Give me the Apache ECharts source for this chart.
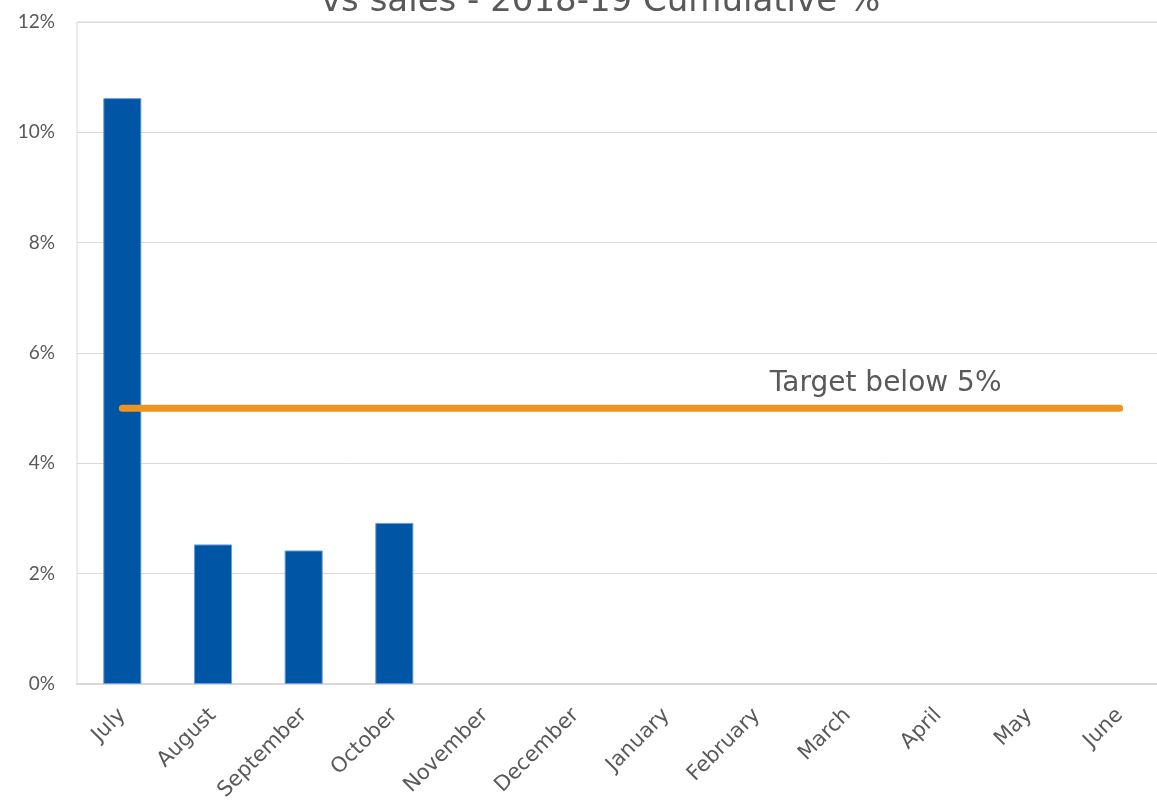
<!DOCTYPE html>
<html>
<head>
<meta charset="utf-8">
<script src="https://cdn.jsdelivr.net/npm/echarts@6/dist/echarts.min.js"></script>
<style>html,body{margin:0;padding:0;background:#fff;}#c{width:1157px;height:811px;}</style>
</head>
<body>
<div id="c"></div>
<script>
var categories = ['July','August','September','October','November','December','January','February','March','April','May','June'];
var values = [10.62, 2.53, 2.42, 2.92, null, null, null, null, null, null, null, null];
var target = [5,5,5,5,5,5,5,5,5,5,5,5];
var targetLabel = 'Target below 5%';
var titleText = 'vs sales - 2018-19 Cumulative %';
var yTicks = [0, 2, 4, 6, 8, 10, 12];

var FONT = '"DejaVu Sans", sans-serif';
var chart = echarts.init(document.getElementById('c'));
var targetData = target.map(function (v, i) {
  if (i === 8) {
    return { value: v, label: { show: true, position: 'top', offset: [38, -5], formatter: targetLabel,
      fontSize: 28, color: '#595959', fontFamily: FONT } };
  }
  return v;
});
chart.setOption({
  animation: false,
  title: {
    text: titleText, left: 316, top: -20,
    textStyle: { fontSize: 34, fontWeight: 'normal', color: '#595959', fontFamily: FONT }
  },
  grid: { left: 77, width: 1088, top: 22, height: 662, show: true, borderColor: '#d9d9d9', borderWidth: 1,
    outerBoundsMode: 'none', containLabel: false },
  xAxis: {
    type: 'category', data: categories,
    axisLine: { show: true, lineStyle: { color: '#d9d9d9', width: 2 } },
    axisTick: { show: false },
    axisLabel: { rotate: 45, interval: 0, fontSize: 21, color: '#595959', fontFamily: FONT, margin: 28 }
  },
  yAxis: {
    type: 'value', min: yTicks[0], max: yTicks[yTicks.length - 1], interval: 2,
    axisLine: { show: false }, axisTick: { show: false },
    splitLine: { lineStyle: { color: '#d9d9d9', width: 1 } },
    axisLabel: { formatter: '{value}%', fontSize: 19, color: '#595959', fontFamily: 'Lato, sans-serif', margin: 22 }
  },
  series: [
    {
      type: 'bar', data: values, barWidth: '42%',
      itemStyle: { color: '#0055a5', borderColor: '#6c9bd6', borderWidth: 1 }
    },
    {
      type: 'line', data: targetData, symbol: 'circle', symbolSize: 1, showSymbol: true,
      lineStyle: { color: '#ee9320', width: 7, cap: 'round' },
      itemStyle: { color: '#ee9320' },
      z: 5
    }
  ]
});
</script>
</body>
</html>
